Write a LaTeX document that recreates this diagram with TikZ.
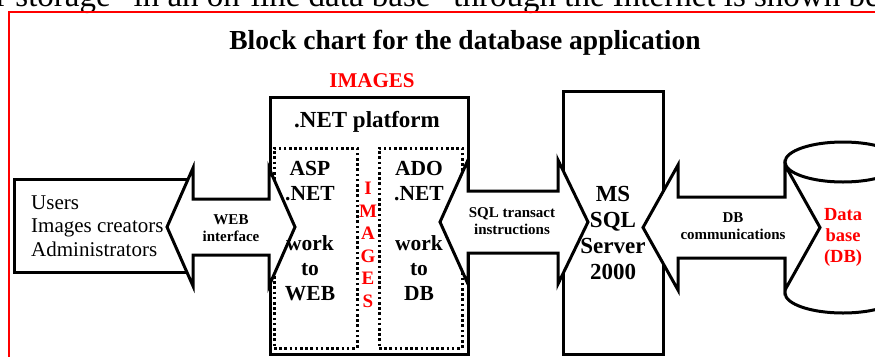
\documentclass[tikz,border=0pt]{standalone}
\usepackage{fontspec}
\setmainfont{Liberation Serif}
\newcommand{\dblarr}[7]{%
  \draw[arr] (#1,#3) -- ({#1+#6},{#3-#5}) -- ({#1+#6},{#3-#4}) -- ({#2-#7},{#3-#4}) -- ({#2-#7},{#3-#5}) -- (#2,#3)
    -- ({#2-#7},{#3+#5}) -- ({#2-#7},{#3+#4}) -- ({#1+#6},{#3+#4}) -- ({#1+#6},{#3+#5}) -- cycle;}
\begin{document}
\begin{tikzpicture}[x=1pt,y=-1pt,
  blk/.style={draw=black, line width=3pt, fill=white, inner sep=0pt},
  dotbox/.style={draw=black, line width=3pt, dash pattern=on 2.6pt off 2.6pt, inner sep=0pt},
  arr/.style={draw=black, line width=3pt, fill=white, line join=miter},
  lbl/.style={font=\bfseries\fontsize{15}{17}\selectfont, align=center, inner sep=0pt},
  boxtxt/.style={font=\bfseries\fontsize{21.5}{25}\selectfont, align=center, inner sep=0pt},
  redtxt/.style={text=red, font=\bfseries\fontsize{18.5}{21}\selectfont, align=center, inner sep=0pt}]
\useasboundingbox (0,0) rectangle (875,356);
\clip (0,0) rectangle (875,356);
% page text cut at top
\node[anchor=base west, font=\fontsize{33}{40}\selectfont, inner sep=0pt] (topline) at (-4,6)
  {r storage” in an on-line data base” through the Internet is shown be};
% red frame
\draw[red, line width=1.3pt] (9,370) -- (9,12) -- (890,12);
% title
\node[font=\bfseries\fontsize{27.5}{30}\selectfont, inner sep=0pt] (title) at (465,43)
  {Block chart for the database application};
\node[font=\bfseries\fontsize{21}{24}\selectfont, text=red, inner sep=0pt] (imgtop) at (372,81) {IMAGES};
% boxes
\node[blk, minimum width=177pt, minimum height=93pt] (users) at (102.5,225.5) {};
\node[blk, minimum width=198pt, minimum height=257pt] (net) at (369,225.5) {};
\node[dotbox, minimum width=83pt, minimum height=200pt] (asp) at (315.5,248) {};
\node[dotbox, minimum width=83pt, minimum height=200pt] (ado) at (420.5,248) {};
\node[blk, minimum width=100pt, minimum height=263pt] (sql) at (613,222.5) {};
% cylinder
\fill[white] (785,162) -- (785,293) arc[start angle=180, end angle=0, x radius=58, y radius=20] -- (901,162) -- cycle;
\draw[line width=3pt] (785,162) -- (785,293) arc[start angle=180, end angle=0, x radius=58, y radius=20] -- (901,162);
\draw[line width=3pt, fill=white] (843,162) ellipse[x radius=58, y radius=20];
% double arrows
\dblarr{167}{295}{227}{28}{59}{26}{26}
\dblarr{440}{588}{222}{31}{62}{28}{30}
\dblarr{643}{820}{227.5}{30.5}{62.5}{35}{35}
% labels
\node[lbl] (lweb) at (231,228) {WEB\\interface};
\node[lbl] (lsql) at (512,221) {SQL transact\\instructions};
\node[lbl] (ldb) at (733,226.5) {DB\\communications};
\node[font=\fontsize{21}{23.5}\selectfont, align=left, anchor=west, inner sep=0pt] (userstxt) at (31,226)
  {Users\\Images creators\\Administrators};
\node[font=\bfseries\fontsize{23}{26}\selectfont, inner sep=0pt] (nettxt) at (367,122) {.NET platform};
\node[boxtxt] (asptxt) at (310,231) {ASP\\.NET\\[25pt]work\\to\\WEB};
\node[boxtxt] (adotxt) at (419,231) {ADO\\.NET\\[25pt]work\\to\\DB};
\node[redtxt, font=\bfseries\fontsize{19}{22.5}\selectfont] (imgv) at (368,245) {I\\M\\A\\G\\E\\S};
\node[font=\bfseries\fontsize{23}{26}\selectfont, align=center, inner sep=0pt] (sqltxt) at (613,232.5)
  {MS\\SQL\\Server\\2000};
\node[redtxt] (dbtxt) at (843,237) {Data\\base\\(DB)};
\end{tikzpicture}
\end{document}
